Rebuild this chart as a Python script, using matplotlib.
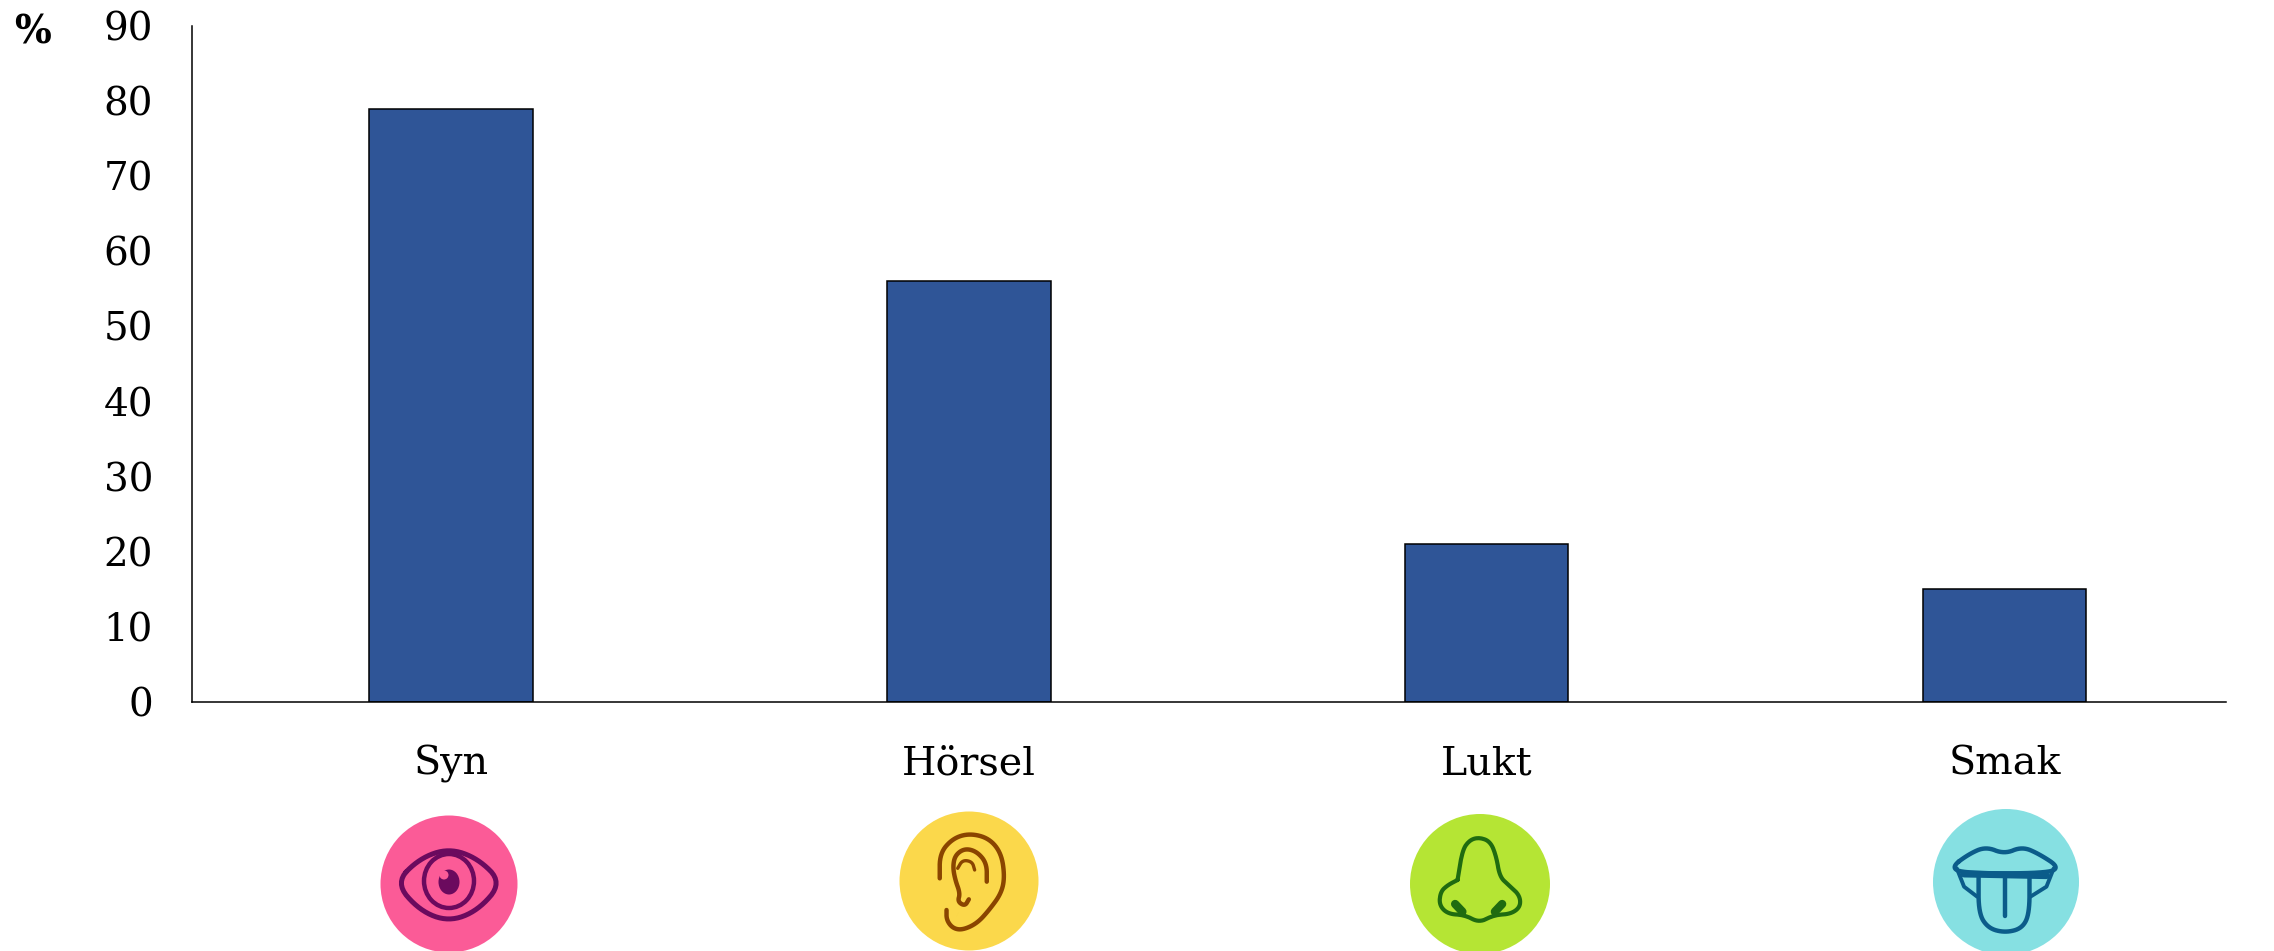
import numpy as np
import matplotlib
matplotlib.use("Agg")
import matplotlib.pyplot as plt
from matplotlib.patches import Ellipse

categories = ["Syn", "Hörsel", "Lukt", "Smak"]
values = [79, 56, 21, 15]
y_ticks = [0, 10, 20, 30, 40, 50, 60, 70, 80, 90]

W, H = 2274, 951
FONT = "DejaVu Serif"


def smooth(pts, rounds=3, closed=False):
    # corner cutting so the hand read outlines look like curves
    p = np.array(pts, dtype=float)
    for _ in range(rounds):
        a = p if closed else p[:-1]
        b = np.roll(p, -1, axis=0) if closed else p[1:]
        q = np.empty((len(a) * 2, 2))
        q[0::2] = 0.75 * a + 0.25 * b
        q[1::2] = 0.25 * a + 0.75 * b
        p = q if closed else np.vstack([p[0], q, p[-1]])
    if closed:
        p = np.vstack([p, p[0]])
    return p


def crop(pts, x0):
    p = np.array(pts, dtype=float)
    return np.c_[x0 + p[:, 0] * 760 / 1568, 780 + p[:, 1] / 3]


def stroke(ax, pts, x0, color, lw=3.2, closed=False, curve=True):
    p = crop(pts, x0)
    if curve:
        p = smooth(p, closed=closed)
    ax.plot(p[:, 0], p[:, 1], color=color, lw=lw, solid_capstyle="round")


def draw_icons(ax):
    ax.add_patch(Ellipse((449, 884), 137, 137, color="#FB5B97", lw=0))
    ax.add_patch(Ellipse((969, 881), 139, 139, color="#FBD84B", lw=0))
    ax.add_patch(Ellipse((1480, 884), 140, 140, color="#B5E534", lw=0))
    ax.add_patch(Ellipse((2006, 882), 146, 146, color="#86E0E2", lw=0))

    # eye
    c = "#6B0A5E"
    stroke(ax, [(135, 308), (185, 235), (245, 205), (305, 235), (355, 308),
                (305, 392), (245, 425), (185, 392)], 330, c, 3.6, closed=True)
    ax.add_patch(Ellipse((449, 881), 50, 54, fc="none", ec=c, lw=3.2))
    ax.add_patch(Ellipse((449, 882), 21, 25, fc=c, ec="none"))
    ax.add_patch(Ellipse((444, 875), 9, 9, fc="#FB5B97", ec="none"))

    # ear
    c = "#8A4500"
    stroke(ax, [(1258, 295), (1258, 220), (1285, 175), (1320, 160), (1360, 175),
                (1385, 220), (1392, 290), (1385, 340), (1360, 390), (1335, 430),
                (1305, 450), (1285, 445), (1272, 420), (1272, 390)], 330, c)
    stroke(ax, [(1355, 305), (1355, 250), (1335, 215), (1310, 205), (1290, 225),
                (1285, 260), (1290, 300), (1300, 340), (1295, 365), (1310, 378),
                (1318, 358)], 330, c)
    stroke(ax, [(1330, 270), (1325, 245), (1305, 240), (1295, 265)], 330, c, 2.4)

    # nose
    c = "#1F6B10"
    stroke(ax, [(160, 300), (170, 210), (185, 180), (205, 172), (228, 185),
                (240, 230), (247, 290), (265, 315), (288, 345), (290, 380),
                (270, 402), (235, 405), (205, 428), (175, 405), (140, 402),
                (122, 375), (125, 335), (140, 315), (160, 300)], 1380, c, 3)
    stroke(ax, [(155, 372), (170, 395)], 1380, c, 6, curve=False)
    stroke(ax, [(252, 372), (237, 395)], 1380, c, 6, curve=False)

    # tongue
    c = "#0B5C8A"
    stroke(ax, [(1178, 262), (1215, 222), (1250, 200), (1288, 222), (1325, 200),
                (1360, 222), (1402, 262), (1375, 280), (1205, 280)], 1380, c, 3.2,
           closed=True)
    stroke(ax, [(1205, 282), (1375, 287)], 1380, c, 5, curve=False)
    stroke(ax, [(1235, 290), (1235, 400), (1255, 445), (1290, 458), (1325, 445),
                (1340, 400), (1340, 290)], 1380, c)
    stroke(ax, [(1290, 290), (1290, 408)], 1380, c, curve=False)
    stroke(ax, [(1190, 265), (1205, 320), (1232, 350)], 1380, c, 2.8, curve=False)
    stroke(ax, [(1390, 265), (1375, 320), (1342, 350)], 1380, c, 2.8, curve=False)


def main():
    fig = plt.figure(figsize=(W / 100, H / 100), dpi=100)
    ax = fig.add_axes([192 / W, (H - 702) / H, (2226 - 192) / W, (702 - 26) / H])

    x = np.arange(len(categories))
    ax.bar(x, values, width=0.315, color="#2F5597", edgecolor="black", linewidth=1.1)

    ax.set_xlim(-0.5, 3.427)
    ax.set_ylim(0, 90)
    ax.set_yticks(y_ticks)
    ax.set_xticks(x)
    ax.set_xticklabels(categories)
    ax.tick_params(axis="y", length=0, pad=28, labelsize=28)
    ax.tick_params(axis="x", length=0, pad=31, labelsize=28.5)
    for lab in ax.get_xticklabels() + ax.get_yticklabels():
        lab.set_fontfamily(FONT)

    ax.spines["top"].set_visible(False)
    ax.spines["right"].set_visible(False)
    ax.spines["left"].set_linewidth(1.1)
    ax.spines["bottom"].set_linewidth(1.1)

    fig.text(33 / W, 1 - 32 / H, "%", family=FONT, weight="bold", fontsize=28,
             ha="center", va="center")

    # icons live on a pixel sized overlay
    over = fig.add_axes([0, 0, 1, 1])
    over.set_xlim(0, W)
    over.set_ylim(H, 0)
    over.axis("off")
    draw_icons(over)

    fig.savefig("out.png", dpi=100)
    plt.close(fig)


if __name__ == "__main__":
    main()
